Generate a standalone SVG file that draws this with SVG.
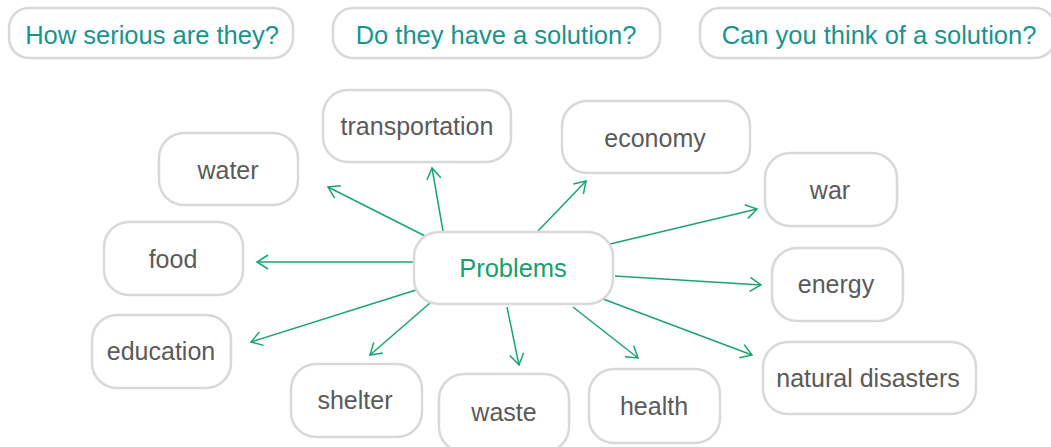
<svg xmlns="http://www.w3.org/2000/svg" width="1051" height="447" viewBox="0 0 1051 447">
<defs>
<style>
.box{fill:#fff;stroke:#d6d9dc;stroke-width:2.5}
.q{font-family:"Liberation Sans",Arial,sans-serif;font-size:25.5px;fill:#16958f;text-anchor:middle}
.t{font-family:"Liberation Sans",Arial,sans-serif;font-size:25px;fill:#5a5a5a;text-anchor:middle}
.c{font-family:"Liberation Sans",Arial,sans-serif;font-size:25.5px;fill:#17a06b;text-anchor:middle}
.ln{stroke:#1ba46f;stroke-width:1.5;fill:none;marker-end:url(#ah)}
</style>
<marker id="ah" markerUnits="userSpaceOnUse" viewBox="-14 -9 16 18" refX="0" refY="0" markerWidth="16" markerHeight="18" orient="auto" overflow="visible">
<path d="M-11,-7 L0,0 L-11,7" fill="none" stroke="#1ba46f" stroke-width="1.5"/>
</marker>
</defs>
<rect width="1051" height="447" fill="#fff"/>
<g id="q1"><rect class="box" x="9" y="8" width="284" height="50" rx="20"/><text class="q" x="152" y="44">How serious are they?</text></g>
<g id="q2"><rect class="box" x="333" y="8" width="327" height="50" rx="20"/><text class="q" x="496" y="44">Do they have a solution?</text></g>
<g id="q3"><rect class="box" x="700" y="8" width="355" height="50" rx="20"/><text class="q" x="879" y="44">Can you think of a solution?</text></g>
<g id="connectors">
<line class="ln" x1="427" y1="237" x2="328" y2="187"/>
<line class="ln" x1="443" y1="231" x2="432" y2="168"/>
<line class="ln" x1="413" y1="262" x2="257" y2="262"/>
<line class="ln" x1="538" y1="231" x2="586" y2="181"/>
<line class="ln" x1="610" y1="244" x2="757" y2="209"/>
<line class="ln" x1="615" y1="276" x2="761" y2="285"/>
<line class="ln" x1="416" y1="290" x2="251" y2="342"/>
<line class="ln" x1="430" y1="303" x2="370" y2="355"/>
<line class="ln" x1="507" y1="307" x2="519" y2="365"/>
<line class="ln" x1="573" y1="307" x2="638" y2="358"/>
<line class="ln" x1="603" y1="299" x2="752" y2="355"/>
</g>
<g id="transportation"><rect class="box" x="323" y="90" width="188" height="72" rx="25"/><text class="t" x="417" y="135">transportation</text></g>
<g id="economy"><rect class="box" x="562" y="101" width="188" height="72" rx="25"/><text class="t" x="655" y="147">economy</text></g>
<g id="water"><rect class="box" x="159" y="133" width="139" height="72" rx="25"/><text class="t" x="228" y="179">water</text></g>
<g id="war"><rect class="box" x="765" y="153" width="132" height="73" rx="25"/><text class="t" x="830" y="199">war</text></g>
<g id="food"><rect class="box" x="104" y="222" width="139" height="73" rx="25"/><text class="t" x="173" y="268">food</text></g>
<g id="problems"><rect class="box" x="414" y="232" width="199" height="72" rx="25"/><text class="c" x="513" y="277">Problems</text></g>
<g id="energy"><rect class="box" x="772" y="248" width="131" height="73" rx="25"/><text class="t" x="836" y="293">energy</text></g>
<g id="education"><rect class="box" x="92" y="315" width="139" height="73" rx="25"/><text class="t" x="161" y="360">education</text></g>
<g id="natural-disasters"><rect class="box" x="763" y="342" width="213" height="72" rx="25"/><text class="t" x="868" y="387">natural disasters</text></g>
<g id="shelter"><rect class="box" x="291" y="364" width="131" height="73" rx="25"/><text class="t" x="355" y="409">shelter</text></g>
<g id="waste"><rect class="box" x="439" y="374" width="130" height="78" rx="25"/><text class="t" x="504" y="421">waste</text></g>
<g id="health"><rect class="box" x="589" y="369" width="131" height="74" rx="25"/><text class="t" x="654" y="415">health</text></g>
</svg>
